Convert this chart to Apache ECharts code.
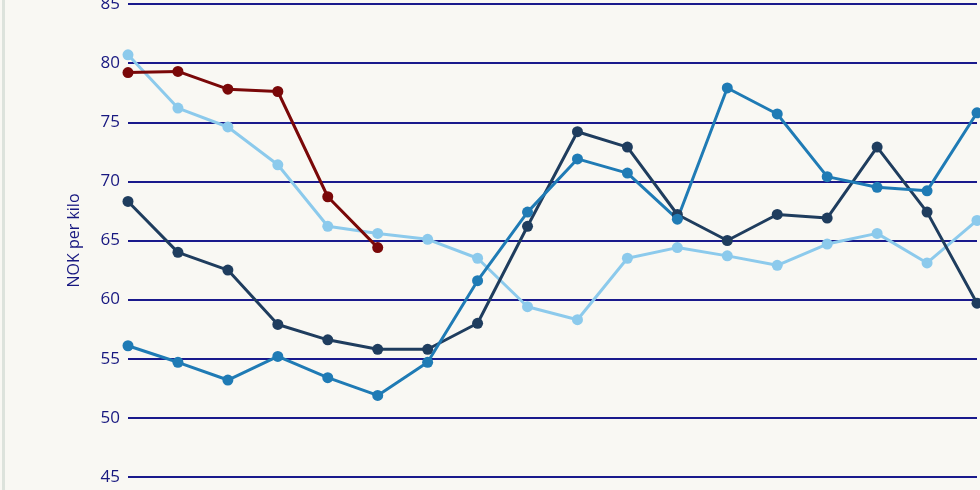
<!DOCTYPE html>
<html>
<head>
<meta charset="utf-8">
<script src="https://cdn.jsdelivr.net/npm/echarts@6/dist/echarts.min.js"></script>
<style>
html,body{margin:0;padding:0;background:#f9f8f3;}
#c{width:980px;height:490px;}
</style>
</head>
<body>
<div id="c"></div>
<script>
var categories = ['P1','P2','P3','P4','P5','P6','P7','P8','P9','P10','P11','P12','P13','P14','P15','P16','P17','P18'];
var yTicks = [45, 50, 55, 60, 65, 70, 75, 80, 85];
var seriesRed = [79.2, 79.3, 77.8, 77.6, 68.7, 64.4, null, null, null, null, null, null, null, null, null, null, null, null];
var seriesLight = [80.7, 76.2, 74.6, 71.4, 66.2, 65.6, 65.1, 63.5, 59.4, 58.3, 63.5, 64.4, 63.7, 62.9, 64.7, 65.6, 63.1, 66.7];
var seriesNavy = [68.3, 64.0, 62.5, 57.9, 56.6, 55.8, 55.8, 58.0, 66.2, 74.2, 72.9, 67.2, 65.0, 67.2, 66.9, 72.9, 67.4, 59.7];
var seriesBlue = [56.1, 54.7, 53.2, 55.2, 53.4, 51.9, 54.7, 61.6, 67.4, 71.9, 70.7, 66.8, 77.9, 75.7, 70.4, 69.5, 69.2, 75.8];

var chart = echarts.init(document.getElementById('c'));
function mk(name, data, color) {
  return {
    name: name, type: 'line', data: data, connectNulls: false,
    symbol: 'circle', symbolSize: 11,
    lineStyle: {color: color, width: 3},
    itemStyle: {color: color},
    animation: false
  };
}
chart.setOption({
  backgroundColor: '#f9f8f3',
  animation: false,
  graphic: [{type: 'rect', left: 2, top: 0, shape: {width: 3, height: 490}, style: {fill: '#dde3dc'}}],
  grid: {left: 128, right: 3, top: 4, bottom: 13, containLabel: false, outerBoundsMode: 'none'},
  xAxis: {
    type: 'category', data: categories, boundaryGap: false,
    axisLine: {show: false}, axisTick: {show: false}, axisLabel: {show: false}, splitLine: {show: false}
  },
  yAxis: {
    type: 'value', min: yTicks[0], max: yTicks[yTicks.length - 1], interval: 5,
    name: 'NOK per kilo', nameLocation: 'middle', nameGap: 46,
    nameTextStyle: {color: '#181880', fontSize: 16, fontFamily: 'Open Sans'},
    axisLine: {show: false}, axisTick: {show: false},
    axisLabel: {color: '#181880', fontSize: 17, fontFamily: 'Open Sans', margin: 8},
    splitLine: {lineStyle: {color: '#1a1a8c', width: 2}}
  },
  series: [
    mk('Light', seriesLight, '#8ccaec'),
    mk('Navy', seriesNavy, '#1f3d5e'),
    mk('Blue', seriesBlue, '#1f7bb5'),
    mk('Red', seriesRed, '#7a0808')
  ]
});
</script>
</body>
</html>
